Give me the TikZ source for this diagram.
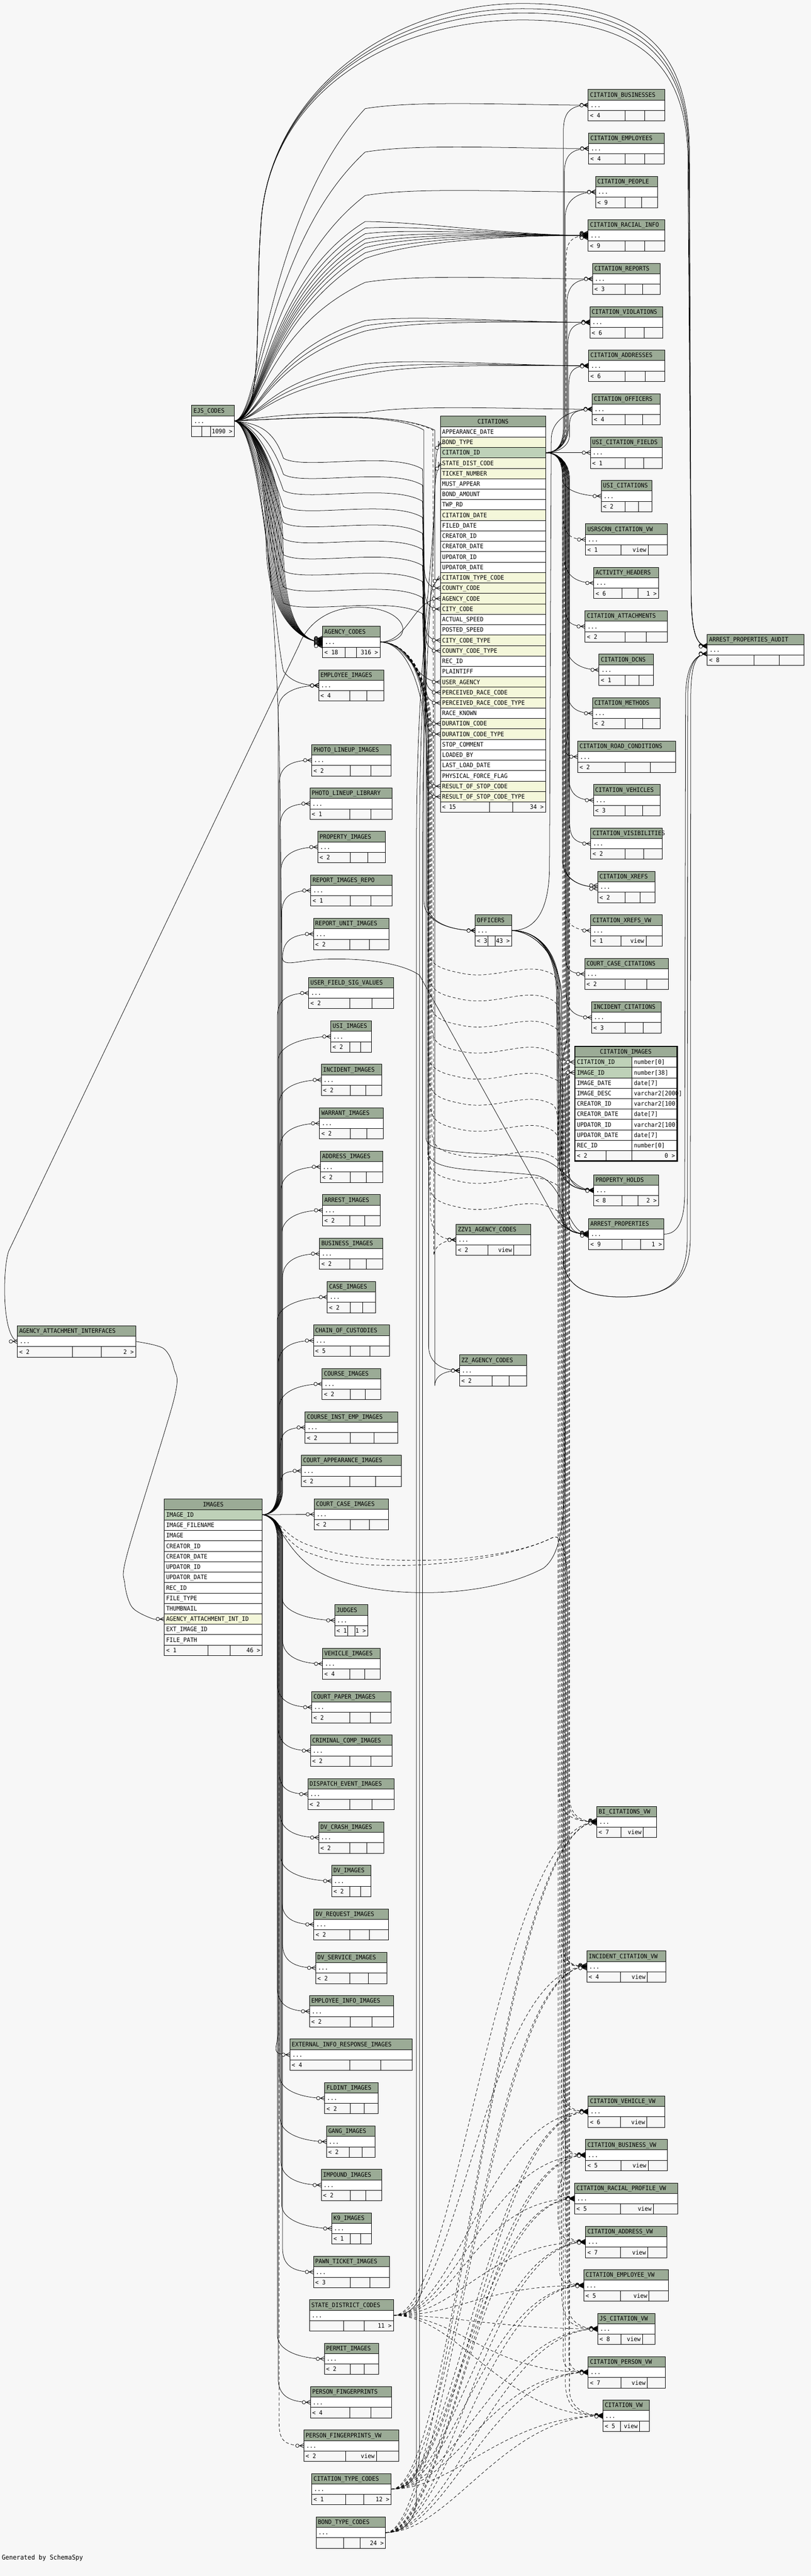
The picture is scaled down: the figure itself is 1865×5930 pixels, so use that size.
\documentclass[tikz,border=0pt]{standalone}
\usepackage{fontspec}
\newfontfamily\tfam[FakeStretch=0.94]{DejaVu Sans Mono}
\newcommand\tf{\tfam\fontsize{14pt}{14pt}\selectfont}
\definecolor{bgc}{HTML}{F7F7F7}
\definecolor{hdr}{HTML}{9BAB96}
\definecolor{pkc}{HTML}{BED1B8}
\definecolor{fkc}{HTML}{F4F7DA}
\definecolor{ftr}{HTML}{F7F7F7}
\tikzset{
 conn/.style={line width=0.9pt},
 dconn/.style={line width=0.9pt, dash pattern=on 7pt off 5pt},
 tline/.style={line width=1pt},
 txt/.style={anchor=base west, inner sep=0pt, font=\tf},
 txtr/.style={anchor=base east, inner sep=0pt, font=\tf},
 txtc/.style={anchor=base, inner sep=0pt, font=\tf},
}
\newif\ifrsdraw
\newcommand\rsTab[9]{%
 \ifrsdraw
  \fill[hdr] (#3,#5) rectangle (#4,#5+24);
  \fill[white] (#3,#5+24) rectangle (#4,#5+48);
  \fill[ftr] (#3,#5+48) rectangle (#4,#5+72);
  \draw[tline] (#3,#5) rectangle (#4,#5+72);
  \draw[tline] (#3,#5+24) -- (#4,#5+24) (#3,#5+48) -- (#4,#5+48) (#6,#5+48) -- (#6,#5+72) (#7,#5+48) -- (#7,#5+72);
  \node[txt] at (#3+4,#5+17) {#2};
  \node[txt] at (#3+5,#5+41) {...};
  \node[txt] at (#3+4,#5+65) {#8};
  \node[txtr] at (#4-4,#5+65) {#9};
 \else
  \node[inner sep=0pt, minimum width={(#4-#3)*1pt}, minimum height=72pt, anchor=north west] (#1) at (#3,#5) {};
  \coordinate (#1-p) at (#3,#5+36);
  \coordinate (#1-r) at (#4,#5+36);
 \fi}
\newcommand\rsView[8]{\rsTab{#1}{#2}{#3}{#4}{#5}{#6}{#7}{#8}{}\ifrsdraw\node[txtr] at (#7-4,#5+65) {view};\fi}
\newcommand\rsTabD[6]{\pgfmathsetmacro\rsdA{(#3+#4)/2-3}\pgfmathsetmacro\rsdB{(\rsdA+#4)/2}\rsTab{#1}{#2}{#3}{#4}{#5}{\rsdA}{\rsdB}{#6}{}}
\newcommand\rsMk[3]{\begin{scope}[shift={(#1,#2)},rotate=#3]\draw[conn] (-10,0) -- (0,-5) (-10,0) -- (0,5) (-11,0) -- (0,0);\filldraw[conn,fill=bgc] (-15,0) circle (4pt);\end{scope}}
\newcommand\rsTables{%
\rsTabD{cbus}{CITATION\_BUSINESSES}{1353}{1529}{206}{< 4}
\rsTabD{cemp}{CITATION\_EMPLOYEES}{1354}{1528}{306}{< 4}
\rsTabD{cpeo}{CITATION\_PEOPLE}{1370}{1513}{406}{< 9}
\rsTabD{crac}{CITATION\_RACIAL\_INFO}{1353}{1529}{506}{< 9}
\rsTabD{crep}{CITATION\_REPORTS}{1363}{1519}{606}{< 3}
\rsTabD{cvio}{CITATION\_VIOLATIONS}{1357}{1525}{706}{< 6}
\rsTabD{cadd}{CITATION\_ADDRESSES}{1354}{1529}{806}{< 6}
\rsTabD{coff}{CITATION\_OFFICERS}{1362}{1519}{906}{< 4}
\rsTabD{ucf}{USI\_CITATION\_FIELDS}{1358}{1523}{1006}{< 1}
\rsTabD{ucit}{USI\_CITATIONS}{1383}{1499}{1106}{< 2}
\rsView{usrv}{USRSCRN\_CITATION\_VW}{1347}{1535}{1206}{1429}{1491}{< 1}
\rsTab{acth}{ACTIVITY\_HEADERS}{1366}{1515}{1306}{1431}{1467}{< 6}{1 >}
\rsTabD{catt}{CITATION\_ATTACHMENTS}{1346}{1535}{1406}{< 2}
\rsTabD{cdcn}{CITATION\_DCNS}{1378}{1503}{1506}{< 1}
\rsTabD{cmet}{CITATION\_METHODS}{1363}{1519}{1606}{< 2}
\rsTabD{crdc}{CITATION\_ROAD\_CONDITIONS}{1329}{1554}{1706}{< 2}
\rsTabD{cveh}{CITATION\_VEHICLES}{1365}{1518}{1806}{< 3}
\rsTabD{cvis}{CITATION\_VISIBILITIES}{1359}{1523}{1906}{< 2}
\rsTabD{cxrf}{CITATION\_XREFS}{1375}{1507}{2006}{< 2}
\rsView{cxrv}{CITATION\_XREFS\_VW}{1359}{1523}{2106}{1429}{1486}{< 1}
\rsTabD{ccc}{COURT\_CASE\_CITATIONS}{1345}{1538}{2206}{< 2}
\rsTabD{inc}{INCIDENT\_CITATIONS}{1361}{1521}{2306}{< 3}
\rsTab{phd}{PROPERTY\_HOLDS}{1366}{1515}{2704}{1431}{1467}{< 8}{2 >}
\rsTab{arp}{ARREST\_PROPERTIES}{1354}{1527}{2805}{1431}{1473}{< 9}{1 >}
\rsTab{apa}{ARREST\_PROPERTIES\_AUDIT}{1627}{1849}{1460}{1735}{1792}{< 8}{}
\rsView{biv}{BI\_CITATIONS\_VW}{1373}{1510}{4158}{1429}{1480}{< 7}
\rsView{icv}{INCIDENT\_CITATION\_VW}{1350}{1532}{4491}{1427}{1489}{< 4}
\rsView{cvhv}{CITATION\_VEHICLE\_VW}{1353}{1529}{4825}{1427}{1488}{< 6}
\rsView{cbuv}{CITATION\_BUSINESS\_VW}{1347}{1535}{4925}{1429}{1491}{< 5}
\rsView{crpv}{CITATION\_RACIAL\_PROFILE\_VW}{1322}{1559}{5025}{1427}{1503}{< 5}
\rsView{cadv}{CITATION\_ADDRESS\_VW}{1347}{1534}{5125}{1427}{1490}{< 7}
\rsView{cemv}{CITATION\_EMPLOYEE\_VW}{1343}{1538}{5225}{1427}{1493}{< 5}
\rsView{jscv}{JS\_CITATION\_VW}{1375}{1507}{5325}{1429}{1478}{< 8}
\rsView{cpev}{CITATION\_PERSON\_VW}{1353}{1530}{5425}{1429}{1489}{< 7}
\rsView{cvw}{CITATION\_VW}{1387}{1494}{5525}{1427}{1471}{< 5}
\rsTab{off}{OFFICERS}{1093}{1177}{2106}{1122}{1139}{< 3}{43 >}
\rsView{zzv1}{ZZV1\_AGENCY\_CODES}{1049}{1221}{2818}{1123}{1182}{< 2}
\rsTab{zz}{ZZ\_AGENCY\_CODES}{1057}{1211}{3119}{1132}{1171}{< 2}{}
\rsTab{ejs}{EJS\_CODES}{441}{539}{933}{464}{484}{}{1090 >}
\rsTab{aai}{AGENCY\_ATTACHMENT\_INTERFACES}{40}{312}{3052}{167}{233}{< 2}{2 >}
\rsTab{ag}{AGENCY\_CODES}{742}{874}{1442}{794}{820}{< 18}{316 >}
\rsTabD{empi}{EMPLOYEE\_IMAGES}{733}{883}{1542}{< 4}
\rsTabD{pli}{PHOTO\_LINEUP\_IMAGES}{717}{900}{1714}{< 2}
\rsTabD{pll}{PHOTO\_LINEUP\_LIBRARY}{713}{902}{1814}{< 1}
\rsTabD{propi}{PROPERTY\_IMAGES}{731}{886}{1914}{< 2}
\rsTabD{rir}{REPORT\_IMAGES\_REPO}{715}{902}{2014}{< 1}
\rsTabD{rui}{REPORT\_UNIT\_IMAGES}{721}{895}{2114}{< 2}
\rsTabD{ufsv}{USER\_FIELD\_SIG\_VALUES}{710}{906}{2250}{< 2}
\rsTabD{usii}{USI\_IMAGES}{761}{855}{2350}{< 2}
\rsTabD{inci}{INCIDENT\_IMAGES}{739}{878}{2450}{< 2}
\rsTabD{wari}{WARRANT\_IMAGES}{735}{882}{2550}{< 2}
\rsTabD{addi}{ADDRESS\_IMAGES}{737}{880}{2650}{< 2}
\rsTabD{arri}{ARREST\_IMAGES}{742}{874}{2750}{< 2}
\rsTabD{busi}{BUSINESS\_IMAGES}{735}{880}{2850}{< 2}
\rsTabD{casi}{CASE\_IMAGES}{753}{864}{2950}{< 2}
\rsTabD{coc}{CHAIN\_OF\_CUSTODIES}{721}{896}{3050}{< 5}
\rsTabD{coui}{COURSE\_IMAGES}{741}{876}{3150}{< 2}
\rsTabD{ciei}{COURSE\_INST\_EMP\_IMAGES}{702}{915}{3250}{< 2}
\rsTabD{cai}{COURT\_APPEARANCE\_IMAGES}{693}{923}{3350}{< 2}
\rsTabD{ccai}{COURT\_CASE\_IMAGES}{723}{894}{3450}{< 2}
\rsTab{jud}{JUDGES}{770}{846}{3694}{800}{817}{< 1}{1 >}
\rsTabD{vehi}{VEHICLE\_IMAGES}{742}{874}{3794}{< 4}
\rsTabD{cpi}{COURT\_PAPER\_IMAGES}{717}{899}{3894}{< 2}
\rsTabD{cci}{CRIMINAL\_COMP\_IMAGES}{714}{902}{3994}{< 2}
\rsTabD{dei}{DISPATCH\_EVENT\_IMAGES}{708}{907}{4094}{< 2}
\rsTabD{dvci}{DV\_CRASH\_IMAGES}{733}{883}{4194}{< 2}
\rsTabD{dvi}{DV\_IMAGES}{763}{853}{4294}{< 2}
\rsTabD{dvri}{DV\_REQUEST\_IMAGES}{722}{894}{4394}{< 2}
\rsTabD{dvsi}{DV\_SERVICE\_IMAGES}{726}{890}{4494}{< 2}
\rsTabD{eii}{EMPLOYEE\_INFO\_IMAGES}{712}{905}{4594}{< 2}
\rsTabD{eiri}{EXTERNAL\_INFO\_RESPONSE\_IMAGES}{667}{948}{4694}{< 4}
\rsTabD{fldi}{FLDINT\_IMAGES}{747}{870}{4794}{< 2}
\rsTabD{gani}{GANG\_IMAGES}{751}{863}{4894}{< 2}
\rsTabD{impi}{IMPOUND\_IMAGES}{739}{878}{4994}{< 2}
\rsTabD{k9i}{K9\_IMAGES}{763}{854}{5094}{< 1}
\rsTabD{pti}{PAWN\_TICKET\_IMAGES}{721}{896}{5194}{< 3}
\rsTab{sdc}{STATE\_DISTRICT\_CODES}{712}{905}{5294}{790}{838}{}{11 >}
\rsTabD{peri}{PERMIT\_IMAGES}{746}{871}{5394}{< 2}
\rsTabD{pfp}{PERSON\_FINGERPRINTS}{714}{901}{5494}{< 4}
\rsView{pfpv}{PERSON\_FINGERPRINTS\_VW}{699}{917}{5594}{795}{866}{< 2}
\rsTab{ctc}{CITATION\_TYPE\_CODES}{717}{900}{5694}{795}{837}{< 1}{12 >}
\rsTab{btc}{BOND\_TYPE\_CODES}{727}{887}{5794}{790}{828}{}{24 >}
}
\newcommand\rsCitKids{cbus/1353/242/conn, cemp/1354/342/conn, cpeo/1370/442/conn, crac/1353/542/dconn, crep/1363/642/conn, cvio/1357/742/conn, cadd/1354/842/conn, coff/1362/942/conn, ucit/1383/1142/conn, usrv/1347/1242/dconn, acth/1366/1342/conn, catt/1346/1442/conn, cdcn/1378/1542/conn, cmet/1363/1642/conn, crdc/1329/1742/conn, cveh/1365/1842/conn, cvis/1359/1942/conn, cxrf/1375/2042/conn, cxrf/1375/2042/conn, cxrv/1359/2142/dconn, ccc/1345/2242/conn, inc/1361/2342/conn, cimgc/1321/2445/conn, phd/1366/2740/conn, arp/1354/2841/conn, biv/1373/4194/dconn, icv/1350/4527/dconn, cvhv/1353/4861/dconn, cbuv/1347/4961/dconn, crpv/1322/5061/dconn, cadv/1347/5161/dconn, cemv/1343/5261/dconn, jscv/1375/5361/dconn, cpev/1353/5461/dconn, cvw/1387/5561/dconn}
\newcommand\rsImgKids{empi/733/1578/conn, pli/717/1750/conn, pll/713/1850/conn, propi/731/1950/conn, rir/715/2050/conn, rui/721/2150/conn, ufsv/710/2286/conn, usii/761/2386/conn, inci/739/2486/conn, wari/735/2586/conn, addi/737/2686/conn, arri/742/2786/conn, busi/735/2886/conn, casi/753/2986/conn, coc/721/3086/conn, coui/741/3186/conn, ciei/702/3286/conn, cai/693/3386/conn, jud/770/3730/conn, vehi/742/3830/conn, cpi/717/3930/conn, cci/714/4030/conn, dei/708/4130/conn, dvci/733/4230/conn, dvi/763/4330/conn, dvri/722/4430/conn, dvsi/726/4530/conn, eii/712/4630/conn, eiri/667/4730/conn, fldi/747/4830/conn, gani/751/4930/conn, impi/739/5030/conn, k9i/763/5130/conn, pti/721/5230/conn, peri/746/5430/conn, pfp/714/5530/conn, pfpv/699/5630/dconn}
\newcommand\rsBotViews{biv/1373/4194, icv/1350/4527, cvhv/1353/4861, cbuv/1347/4961, crpv/1322/5061, cadv/1347/5161, cemv/1343/5261, jscv/1375/5361, cpev/1353/5461, cvw/1387/5561}
\begin{document}
\begin{tikzpicture}[x=1pt,y=-1pt]
\useasboundingbox (0,0) rectangle (1865,5930);
\fill[bgc] (0,0) rectangle (1865,5930);
% ---------- pass 1: names and ports
\rsdrawfalse
\rsTables
\node[inner sep=0pt, minimum width=242pt, minimum height=912pt, anchor=north west] (citations) at (1013,958) {};
\node[inner sep=0pt, minimum width=225pt, minimum height=360pt, anchor=north west] (images) at (378,3451) {};
\node[inner sep=0pt, minimum width=236pt, minimum height=265pt, anchor=north west] (citimages) at (1322,2408) {};
\coordinate (cit-cid) at (1255,1042);
\foreach \ii in {1,...,36}{\coordinate (cit-l\ii) at (1013,958+24*\ii+12);}
\coordinate (img-r) at (603,3487);
\coordinate (img-aai) at (378,3727);
\coordinate (cimgc-p) at (1321,2445);
\coordinate (cimgi-p) at (1321,2469);
\coordinate (apat) at (1627,1487);
\coordinate (apab) at (1627,1505);
% ---------- connectors
% CITATIONS -> right column
\foreach \nn/\xl/\yc/\st [count=\kk] in \rsCitKids {
 \pgfmathsetmacro\rsd{ifthenelse(\yc<1042,-1,1)}
 \pgfmathsetmacro\rsm{min(60,abs(\yc-1042)/2.5)}
 \pgfmathsetmacro\rsbx{1294+mod(\kk,9)*2}
 \pgfmathsetmacro\rsya{1042+0.4*\rsm*(\rsd)}
 \pgfmathsetmacro\rsyb{1042+\rsm*(\rsd)}
 \pgfmathsetmacro\rsye{\yc-\rsm*(\rsd)}
 \pgfmathsetmacro\rsyf{\yc-0.35*\rsm*(\rsd)}
 \draw[\st] (cit-cid) .. controls (1285,1042) and (\rsbx,\rsya) .. (\rsbx,\rsyb) -- (\rsbx,\rsye) .. controls (\rsbx,\rsyf) and (\xl-45,\yc) .. (\nn-p);
}
\draw[conn] (cit-cid) -- (ucf-p);
% EJS -> right column
\foreach \nn/\yc/\oo in {cbus/242/0, cemp/342/0, cpeo/442/0, crac/542/-40, crac/542/-25, crac/542/-12, crac/542/0, crac/542/10, crac/542/20, crac/542/32, crac/542/45, crep/642/0, cvio/742/-12, cvio/742/0, cvio/742/12, cadd/842/-12, cadd/842/0, cadd/842/12, coff/942/0}{
 \pgfmathsetmacro\rsca{\yc+0.35*(969-\yc)+(\oo)}
 \pgfmathsetmacro\rscb{\yc+8+(\oo)}
 \pgfmathsetmacro\rscc{\yc-12+0.5*(\oo)}
 \draw[conn] (ejs-r) .. controls (600,965) and (612,\rsca) .. (840,\rscb) .. controls (960,\rscc) and (1180,\yc) .. (\nn-p);
}
% EJS -> ARREST_PROPERTIES_AUDIT (over the top)
\foreach \oo in {0,12,22,38}{
 \draw[conn] (ejs-r) .. controls (610,969) and (585,720) .. (600,520) .. controls (615,230) and (880,8+\oo) .. (1202,8+\oo) .. controls (1480,8+\oo) and (1585-0.3*\oo,120+\oo) .. (1586-0.1*\oo,350) -- (1590,1380) .. controls (1592,1450) and (1600,1487) .. (apat);
}
% EJS -> CITATIONS code columns
\foreach \rr [count=\kk from 0] in {16,18,21,22,26,27,29,30,35,36}{
 \pgfmathsetmacro\rsh{1055+37*\kk}
 \pgfmathsetmacro\rsyr{958+24*\rr+12}
 \draw[conn] (ejs-r) .. controls (590,975) and (628,\rsh-70) .. (652,\rsh) .. controls (700,\rsh+28) and (900,\rsh-18) .. (972,\rsh+25) -- (976+0.8*\kk,\rsyr-45) .. controls (978,\rsyr-10) and (990,\rsyr) .. (cit-l\rr);
}
% AGENCY_CODES -> CITATIONS
\draw[conn] (ag-r) .. controls (940,1478) and (950,1378) .. (cit-l17);
\draw[conn] (ag-r) .. controls (940,1478) and (950,1570) .. (cit-l25);
% EJS -> AGENCY_CODES
\foreach \kk in {0,...,13}{
 \draw[conn] (ejs-r) .. controls (590,980) and (608+3*\kk,1080) .. (612+3*\kk,1250) .. controls (615+3*\kk,1420) and (690,1478) .. (ag-p);
}
% AGENCY_CODES -> AGENCY_ATTACHMENT_INTERFACES
\draw[conn] (ag-r) .. controls (960,1480) and (940,1395) .. (820,1398) .. controls (750,1400) and (705,1440) .. (688,1485) -- (20,2880) .. controls (6,2920) and (4,3075) .. (aai-p);
% AGENCY_ATTACHMENT_INTERFACES -> IMAGES
\draw[conn] plot[smooth, tension=0.5] coordinates {(aai-r) (376,3104) (400,3150) (400,3222) (293,3576) (287,3645) (304,3700) (350,3726) (img-aai)};
% IMAGES -> image tables
\foreach \nn/\xl/\yc/\st [count=\kk] in \rsImgKids {
 \pgfmathsetmacro\rsd{ifthenelse(\yc<3487,-1,1)}
 \pgfmathsetmacro\rsm{min(55,abs(\yc-3487)/2.5)}
 \pgfmathsetmacro\rsbx{638+mod(\kk,7)*2}
 \pgfmathsetmacro\rsya{3487+0.4*\rsm*(\rsd)}
 \pgfmathsetmacro\rsyb{3487+\rsm*(\rsd)}
 \pgfmathsetmacro\rsye{\yc-\rsm*(\rsd)}
 \pgfmathsetmacro\rsyf{\yc-0.3*\rsm*(\rsd)}
 \draw[\st] (img-r) .. controls (625,3487) and (\rsbx,\rsya) .. (\rsbx,\rsyb) -- (\rsbx,\rsye) .. controls (\rsbx,\rsyf) and (\xl-50,\yc) .. (\nn-p);
}
\draw[conn] (img-r) -- (ccai-p);
\draw[conn] (ejs-r) .. controls (600,980) and (630,1450) .. (652,1545) .. controls (670,1570) and (700,1578) .. (empi-p);
% IMAGES -> CITATION_IMAGES
\draw[conn] (img-r) .. controls (640,3490) and (650,3560) .. (720,3610) .. controls (820,3680) and (1100,3690) .. (1250,3610) .. controls (1290,3580) and (1298,3500) .. (1299,3400) -- (1302,2540) .. controls (1303,2495) and (1290,2469) .. (cimgi-p);
\foreach \vv/\xl/\yc/\oo in {biv/1373/4194/0, icv/1350/4527/18}{
 \draw[dconn] (img-r) .. controls (640,3490) and (650,3540+\oo) .. (720,3560+\oo) .. controls (850,3610+\oo) and (1150,3600) .. (1270,3540) .. controls (1300,3525) and (1306,3600) .. (1306,3700) -- (1306,\yc-80) .. controls (1306,\yc-20) and (\xl-60,\yc) .. (\vv-p);
}
% code tables at the bottom -> CITATIONS
\draw[conn] (btc-r) .. controls (930,5830) and (958,5800) .. (958,5750) -- (958,1950) .. controls (958,1500) and (1000,1300) .. (1001,1100) .. controls (1002,1060) and (1003,1035) .. (cit-l2);
\draw[conn] (sdc-r) .. controls (945,5330) and (972,5300) .. (972,5250) -- (972,1950) .. controls (972,1550) and (998,1350) .. (999,1150) .. controls (1000,1110) and (1003,1083) .. (cit-l4);
\draw[conn] (ctc-r) .. controls (940,5730) and (965,5700) .. (965,5650) -- (965,1950) .. controls (965,1600) and (985,1400) .. (993,1360) .. controls (998,1345) and (1004,1335) .. (cit-l15);
% code tables -> views
\foreach \pp/\px/\py in {sdc/905/5330, ctc/900/5730, btc/887/5830}{
 \foreach \vv/\xl/\yc in \rsBotViews {
  \draw[dconn] (\pp-r) .. controls (\px+150,\py) and (\xl-230,\yc) .. (\vv-p);
 }}
% AGENCY_CODES -> views through the middle
\foreach \vv/\xl/\yc [count=\kk from 0] in \rsBotViews {
 \pgfmathsetmacro\rsh{2230+60*\kk}
 \pgfmathsetmacro\rsjx{1284+mod(\kk,5)*4}
 \pgfmathsetmacro\rslx{984+mod(\kk,4)*3}
 \draw[dconn] (ag-r) .. controls (940,1478) and (\rslx,1560) .. (\rslx,1700) -- (\rslx,\rsh-50) .. controls (\rslx,\rsh-10) and (1010,\rsh) .. (1060,\rsh+10) .. controls (1140,\rsh+28) and (1210,\rsh-20) .. (1270,\rsh+12) .. controls (\rsjx,\rsh+20) and (\rsjx,\rsh+50) .. (\rsjx,\rsh+100) -- (\rsjx,\yc-90) .. controls (\rsjx,\yc-25) and (\xl-70,\yc) .. (\vv-p);
}
% OFFICERS
\draw[conn] (ag-r) .. controls (940,1478) and (982,1600) .. (982,1750) -- (982,2080) .. controls (984,2125) and (1040,2142) .. (off-p);
\draw[conn] (ejs-r) .. controls (700,962) and (905,948) .. (975,990) -- (975,2075) .. controls (977,2125) and (1040,2142) .. (off-p);
\draw[conn] (off-r) .. controls (1230,2142) and (1262,2100) .. (1264,2000) -- (1268,1010) .. controls (1270,960) and (1320,942) .. (coff-p);
\foreach \nn/\xl/\yc/\jj in {arp/1354/2841/0, arp/1354/2841/4, arp/1354/2841/8, phd/1366/2740/2, phd/1366/2740/6}{
 \draw[conn] (off-r) .. controls (1230,2142) and (1276+\jj,2180) .. (1280+\jj,2280) -- (1284+\jj,\yc-70) .. controls (1286+\jj,\yc-15) and (\xl-45,\yc) .. (\nn-p);
}
\foreach \jj in {0,7}{
 \draw[conn] (off-r) .. controls (1230,2145) and (1290,2200) .. (1292,2300) -- (1296,2900) .. controls (1298,2960) and (1350,2990) .. (1450,2985) .. controls (1540,2980) and (1580+\jj,2950) .. (1581+\jj,2850) -- (1582+\jj,1600) .. controls (1583+\jj,1530) and (1600,1505) .. (apab);
}
\draw[conn] (arp-r) .. controls (1560,2841) and (1574,2810) .. (1575,2750) -- (1577,1600) .. controls (1579,1530) and (1600,1505) .. (apab);
% other lines into ARREST_PROPERTIES / PROPERTY_HOLDS
\draw[conn] (ejs-r) .. controls (600,980) and (642,1400) .. (645,1900) -- (648,2200) .. controls (650,2230) and (680,2210) .. (750,2208) .. controls (850,2205) and (930,2220) .. (965,2245) -- (1273,2798) .. controls (1290,2825) and (1320,2841) .. (arp-p);
\draw[conn] (ag-r) .. controls (940,1478) and (984,1560) .. (984,1700) -- (984,2650) .. controls (986,2700) and (1100,2690) .. (1230,2705) .. controls (1300,2715) and (1300,2841) .. (arp-p);
\draw[conn] (ag-r) .. controls (940,1478) and (980,1560) .. (980,1700) -- (980,2620) .. controls (982,2660) and (1100,2650) .. (1230,2665) .. controls (1300,2675) and (1310,2740) .. (phd-p);
% ZZ tables
\draw[dconn] (ag-r) .. controls (940,1478) and (990,1560) .. (990,1700) -- (990,2790) .. controls (991,2835) and (1010,2854) .. (zzv1-p);
\draw[dconn] (ejs-r) .. controls (700,962) and (905,945) .. (996,990) -- (998,2890) .. controls (1000,2870) and (1015,2856) .. (zzv1-p);
\draw[conn] (ag-r) .. controls (940,1478) and (986,1560) .. (986,1700) -- (986,3100) .. controls (987,3140) and (1020,3155) .. (zz-p);
\draw[conn] (ejs-r) .. controls (700,962) and (905,945) .. (1000,990) -- (1000,3190) .. controls (1001,3165) and (1025,3155) .. (zz-p);
% ---------- pass 2: tables
\rsdrawtrue
\rsTables
% CITATIONS
\fill[hdr] (1013,958) rectangle (1255,982);
\node[txtc] at (1134,975) {CITATIONS};
\foreach \tx/\cl [count=\ii] in {APPEARANCE\_DATE/white, BOND\_TYPE/fkc, CITATION\_ID/pkc, STATE\_DIST\_CODE/fkc, TICKET\_NUMBER/fkc, MUST\_APPEAR/white, BOND\_AMOUNT/white, TWP\_RD/white, CITATION\_DATE/fkc, FILED\_DATE/white, CREATOR\_ID/white, CREATOR\_DATE/white, UPDATOR\_ID/white, UPDATOR\_DATE/white, CITATION\_TYPE\_CODE/fkc, COUNTY\_CODE/fkc, AGENCY\_CODE/fkc, CITY\_CODE/fkc, ACTUAL\_SPEED/white, POSTED\_SPEED/white, CITY\_CODE\_TYPE/fkc, COUNTY\_CODE\_TYPE/fkc, REC\_ID/white, PLAINTIFF/white, USER\_AGENCY/fkc, PERCEIVED\_RACE\_CODE/fkc, PERCEIVED\_RACE\_CODE\_TYPE/fkc, RACE\_KNOWN/white, DURATION\_CODE/fkc, DURATION\_CODE\_TYPE/fkc, STOP\_COMMENT/white, LOADED\_BY/white, LAST\_LOAD\_DATE/white, PHYSICAL\_FORCE\_FLAG/white, RESULT\_OF\_STOP\_CODE/fkc, RESULT\_OF\_STOP\_CODE\_TYPE/fkc}{
 \fill[\cl] (1013,958+24*\ii) rectangle (1255,982+24*\ii);
 \draw[tline] (1013,958+24*\ii) -- (1255,958+24*\ii);
 \node[txt] at (1017,975+24*\ii) {\tx};
}
\fill[ftr] (1013,1846) rectangle (1255,1870);
\draw[tline] (1013,1846) -- (1255,1846) (1126,1846) -- (1126,1870) (1179,1846) -- (1179,1870);
\node[txt] at (1017,1863) {< 15};
\node[txtr] at (1251,1863) {34 >};
\draw[tline] (1013,958) rectangle (1255,1870);
% IMAGES
\fill[hdr] (378,3451) rectangle (603,3475);
\node[txtc] at (490.5,3468) {IMAGES};
\foreach \tx/\cl [count=\ii] in {IMAGE\_ID/pkc, IMAGE\_FILENAME/white, IMAGE/white, CREATOR\_ID/white, CREATOR\_DATE/white, UPDATOR\_ID/white, UPDATOR\_DATE/white, REC\_ID/white, FILE\_TYPE/white, THUMBNAIL/white, AGENCY\_ATTACHMENT\_INT\_ID/fkc, EXT\_IMAGE\_ID/white, FILE\_PATH/white}{
 \fill[\cl] (378,3451+24*\ii) rectangle (603,3475+24*\ii);
 \draw[tline] (378,3451+24*\ii) -- (603,3451+24*\ii);
 \node[txt] at (382,3468+24*\ii) {\tx};
}
\fill[ftr] (378,3787) rectangle (603,3811);
\draw[tline] (378,3787) -- (603,3787) (478,3787) -- (478,3811) (529,3787) -- (529,3811);
\node[txt] at (382,3804) {< 1};
\node[txtr] at (599,3804) {46 >};
\draw[tline] (378,3451) rectangle (603,3811);
% CITATION_IMAGES
\fill[white] (1320,2406) rectangle (1562,2676);
\fill[hdr] (1322,2408) rectangle (1557,2433);
\node[txtc] at (1439.5,2426) {CITATION\_IMAGES};
\foreach \tx/\ty/\cl [count=\ii] in {CITATION\_ID/number[0]/pkc, IMAGE\_ID/number[38]/pkc, IMAGE\_DATE/date[7]/white, IMAGE\_DESC/varchar2[2000]/white, CREATOR\_ID/varchar2[100]/white, CREATOR\_DATE/date[7]/white, UPDATOR\_ID/varchar2[100]/white, UPDATOR\_DATE/date[7]/white, REC\_ID/number[0]/white}{
 \fill[\cl] (1322,2409+24*\ii) rectangle (1453,2433+24*\ii);
 \draw[tline] (1322,2409+24*\ii) -- (1557,2409+24*\ii);
 \node[txt] at (1327,2426+24*\ii) {\tx};
 \node[txt] at (1458,2426+24*\ii) {\ty};
}
\fill[ftr] (1322,2649) rectangle (1557,2673);
\draw[tline] (1322,2649) -- (1557,2649) (1394,2649) -- (1394,2673) (1453,2433) -- (1453,2673);
\node[txt] at (1327,2666) {< 2};
\node[txtr] at (1553,2666) {0 >};
\draw[line width=3pt] (1322.5,2408.5) rectangle (1557.5,2672.5);
% ---------- markers
\foreach \x/\y/\cn in {1353/242/2, 1354/342/2, 1370/442/2, 1353/542/9, 1363/642/2, 1357/742/4, 1354/842/4, 1362/942/3, 1358/1042/1, 1383/1142/1, 1347/1242/1, 1366/1342/1, 1346/1442/1, 1378/1542/1, 1363/1642/1, 1329/1742/1, 1365/1842/1, 1359/1942/1, 1375/2038/1, 1375/2046/1, 1359/2142/1, 1345/2242/1, 1361/2342/1, 1321/2445/1, 1321/2469/1, 1366/2740/4, 1354/2841/6, 1627/1487/4, 1627/1505/3, 1373/4194/6, 1350/4527/6, 1353/4861/5, 1347/4961/5, 1322/5061/5, 1347/5161/5, 1343/5261/5, 1375/5361/5, 1353/5461/5, 1387/5561/5, 742/1478/14, 1093/2142/2, 1049/2854/2, 1057/3155/2, 40/3088/1, 378/3727/1, 733/1578/2, 723/3486/1}{
 \foreach \jj in {1,...,\cn}{
  \pgfmathsetmacro\rsyy{\y+(\jj-(\cn+1)/2)*ifthenelse(\cn>5,1.4,0.9)}
  \rsMk{\x}{\rsyy}{0}
 }}
\foreach \nn/\xl/\yc/\st in \rsImgKids {\rsMk{\xl}{\yc}{0}}
\foreach \rr in {16,17,18,21,22,25,26,27,29,30,35,36}{\rsMk{1013}{958+24*\rr+12}{0}}
\rsMk{1013}{1018}{60}
\rsMk{1013}{1066}{60}
\rsMk{1013}{1330}{30}
\node[anchor=base west, inner sep=0pt, font=\tfam\fontsize{15pt}{15pt}\selectfont] (gen) at (4,5893) {Generated by SchemaSpy};
\end{tikzpicture}
\end{document}
